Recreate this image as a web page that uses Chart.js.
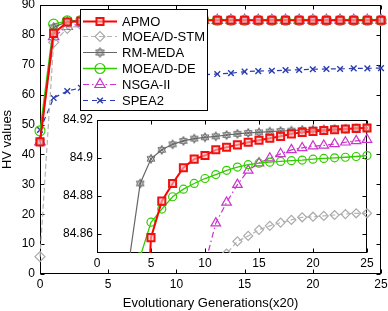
<!DOCTYPE html>
<html>
<head>
<meta charset="utf-8">
<script src="https://cdn.jsdelivr.net/npm/chart.js@4.4.1/dist/chart.umd.min.js"></script>
<style>
  html, body { margin: 0; padding: 0; background: #fff; }
  #wrap { position: relative; width: 388px; height: 311px; }
  #mainChart { position: absolute; left: 0; top: 0; }
  #insetChart { position: absolute; left: 45px; top: 110px; }
</style>
</head>
<body>
<div id="wrap">
  <canvas id="mainChart" width="388" height="311"></canvas>
  <canvas id="insetChart" width="335" height="168"></canvas>
</div>
<script>
// values (x = generation index, times 20)
const generations = [0, 1, 2, 3, 4, 5, 6, 7, 8, 9, 10, 11, 12, 13, 14, 15, 16, 17, 18, 19, 20, 21, 22, 23, 24, 25];
const apmo = [44.2, 80.5, 84.3, 84.6, 84.75, 84.8581, 84.8773, 84.8866, 84.8949, 84.8994, 84.9013, 84.9043, 84.9057, 84.9069, 84.9083, 84.9093, 84.9104, 84.9114, 84.9127, 84.9135, 84.914, 84.9145, 84.9149, 84.9153, 84.9156, 84.9158];
const moeadStm = [5.8, 77.5, 82.2, 83.3, 83.9, 84.25, 84.5, 84.65, 84.74, 84.79, 84.82, 84.838, 84.8497, 84.8561, 84.859, 84.8622, 84.8643, 84.866, 84.8674, 84.8688, 84.8691, 84.8695, 84.87, 84.8705, 84.8709, 84.8709];
const rmMeda = [44.2, 82.5, 84.5, 84.847, 84.8866, 84.8996, 84.9043, 84.9072, 84.909, 84.9102, 84.9109, 84.9114, 84.9121, 84.9127, 84.9132, 84.9135, 84.9139, 84.9142, 84.9144, 84.9148, 84.9149, 84.9151, 84.9153, 84.9154, 84.9156, 84.9158];
const moeadDe = [47.9, 83.6, 84.7, 84.8, 84.848, 84.8662, 84.8731, 84.8796, 84.8836, 84.8866, 84.8892, 84.8913, 84.8935, 84.8952, 84.8965, 84.8973, 84.8978, 84.8982, 84.8986, 84.8989, 84.8994, 84.8998, 84.9001, 84.9004, 84.9008, 84.9013];
const nsga2 = [44.2, 79.4, 82.8, 83.8, 84.3, 84.5, 84.6, 84.7, 84.75, 84.8, 84.844, 84.8657, 84.8766, 84.886, 84.8935, 84.8973, 84.8999, 84.9022, 84.9043, 84.9053, 84.9062, 84.9066, 84.9074, 84.9083, 84.909, 84.9097];
const spea2 = [48.2, 58.9, 61.2, 62.3, 63.2, 63.9, 64.5, 65.0, 65.4, 65.8, 66.1, 66.4, 66.7, 66.9, 67.2, 67.7, 67.9, 68.0, 68.2, 68.3, 68.5, 68.6, 68.6, 68.8, 68.8, 68.9];

const mainXTicks = [0, 5, 10, 15, 20, 25];
const mainYTicks = [0, 10, 20, 30, 40, 50, 60, 70, 80, 90];
const insetXTicks = [0, 5, 10, 15, 20, 25];
const insetYTicks = [84.86, 84.88, 84.9, 84.92];

Chart.defaults.font.family = '"Liberation Sans", Arial, sans-serif';
Chart.defaults.font.size = 12;
Chart.defaults.color = '#000';

// six-pointed star marker for RM-MEDA
function hexagram(r) {
  const c = document.createElement('canvas');
  const s = Math.ceil(r * 2 + 3);
  c.width = s; c.height = s;
  const g = c.getContext('2d');
  g.strokeStyle = '#666';
  g.lineWidth = 1;
  const cx = s / 2, cy = s / 2;
  [ -Math.PI / 2, Math.PI / 2 ].forEach(a0 => {
    g.beginPath();
    for (let k = 0; k < 3; k++) {
      const a = a0 + k * 2 * Math.PI / 3;
      const px = cx + r * Math.cos(a), py = cy + r * Math.sin(a);
      if (k === 0) g.moveTo(px, py); else g.lineTo(px, py);
    }
    g.closePath();
    g.stroke();
  });
  g.fillStyle = '#666';
  g.fillRect(cx - 1, cy - 1, 2, 2);
  return c;
}
const starMain = hexagram(5);
const starInset = hexagram(4.5);

function series(big) {
  const pts = arr => generations.map((g, i) => ({ x: g, y: arr[i] }));
  return [
    { label: 'APMO', data: pts(apmo), borderColor: '#ff0000', borderWidth: 2,
      pointStyle: 'rect', pointRadius: 5, pointBorderWidth: 2,
      pointBorderColor: '#ee1111', pointBackgroundColor: 'rgba(255,190,190,0.6)' },
    { label: 'MOEA/D-STM', data: pts(moeadStm), borderColor: '#b4b4b4', borderWidth: 1.2, borderDash: [5, 3],
      pointStyle: 'rectRot', pointRadius: big ? 5 : 4.5, pointBorderWidth: 1.2,
      pointBorderColor: '#aaaaaa', pointBackgroundColor: 'rgba(255,255,255,0)' },
    { label: 'RM-MEDA', data: pts(rmMeda), borderColor: '#666666', borderWidth: 1.2,
      pointStyle: big ? starMain : starInset, pointRadius: 5, pointBorderWidth: 1,
      pointBorderColor: '#666666', pointBackgroundColor: 'rgba(255,255,255,0)' },
    { label: 'MOEA/D-DE', data: pts(moeadDe), borderColor: '#33cc00', borderWidth: 1.3,
      pointStyle: 'circle', pointRadius: big ? 5 : 4, pointBorderWidth: 1.2,
      pointBorderColor: '#33cc00', pointBackgroundColor: 'rgba(255,255,255,0)' },
    { label: 'NSGA-II', data: pts(nsga2), borderColor: '#cc33cc', borderWidth: 1.2, borderDash: [6, 3, 1.5, 3],
      pointStyle: 'triangle', pointRadius: big ? 6 : 5.5, pointBorderWidth: 1.2,
      pointBorderColor: '#cc33cc', pointBackgroundColor: 'rgba(255,255,255,0)' },
    { label: 'SPEA2', data: pts(spea2), borderColor: '#2b3cb0', borderWidth: 1.2, borderDash: [5, 4],
      pointStyle: 'crossRot', pointRadius: 4, pointBorderWidth: 1.4,
      pointBorderColor: '#2b3cb0', pointBackgroundColor: 'rgba(255,255,255,0)' }
  ];
}

// MATLAB style box with inward ticks on all four sides
const boxTicks = {
  id: 'boxTicks',
  beforeDraw(chart, args, opts) {
    if (!opts.fill) return;
    const a = chart.chartArea, ctx = chart.ctx;
    ctx.save();
    ctx.fillStyle = '#fff';
    ctx.fillRect(a.left, a.top, a.right - a.left, a.bottom - a.top);
    ctx.restore();
  },
  beforeDatasetsDraw(chart) {
    const { ctx, chartArea: a, scales: { x, y } } = chart;
    ctx.save();
    ctx.strokeStyle = '#000';
    ctx.lineWidth = 1;
    const l = Math.round(a.left) + 0.5, r = Math.round(a.right) - 0.5;
    const t = Math.round(a.top) + 0.5, b = Math.round(a.bottom) - 0.5;
    ctx.strokeRect(l, t, r - l, b - t);
    ctx.beginPath();
    x.ticks.forEach(tk => {
      const px = Math.round(x.getPixelForValue(tk.value)) + 0.5;
      ctx.moveTo(px, b); ctx.lineTo(px, b - 4);
      ctx.moveTo(px, t); ctx.lineTo(px, t + 4);
    });
    y.ticks.forEach(tk => {
      const py = Math.round(y.getPixelForValue(tk.value)) + 0.5;
      ctx.moveTo(l, py); ctx.lineTo(l + 4, py);
      ctx.moveTo(r, py); ctx.lineTo(r - 4, py);
    });
    ctx.stroke();
    ctx.restore();
  }
};

const boxLegend = {
  id: 'boxLegend',
  afterDatasetsDraw(chart) {
    const ctx = chart.ctx;
    ctx.save();
    ctx.fillStyle = '#fff';
    ctx.fillRect(80, 9, 127, 101);
    ctx.strokeStyle = '#000';
    ctx.lineWidth = 1;
    ctx.strokeRect(80.5, 9.5, 127, 101);
    chart.data.datasets.forEach((ds, i) => {
      const yy = Math.round(20.5 + i * 15.9) + 0.5;
      ctx.strokeStyle = ds.borderColor;
      ctx.lineWidth = ds.borderWidth;
      ctx.setLineDash(ds.borderDash || []);
      ctx.beginPath();
      ctx.moveTo(83, yy); ctx.lineTo(117, yy);
      ctx.stroke();
      ctx.setLineDash([]);
      ctx.fillStyle = ds.pointBackgroundColor;
      ctx.strokeStyle = ds.pointBorderColor;
      ctx.lineWidth = ds.pointBorderWidth;
      Chart.helpers.drawPoint(ctx, { pointStyle: ds.pointStyle, radius: ds.pointRadius, borderWidth: ds.pointBorderWidth, rotation: 0 }, 100, yy);
      ctx.fillStyle = '#000';
      ctx.font = '13px "Liberation Sans", Arial, sans-serif';
      ctx.textBaseline = 'middle';
      ctx.textAlign = 'left';
      ctx.fillText(ds.label, 122, yy + 0.5);
    });
    ctx.restore();
  }
};

function fixTicks(list) {
  return scale => { scale.ticks = list.map(v => ({ value: v })); };
}
function fixSize(prop, size) {
  return s => {
    s[prop] = size;
    s.paddingTop = 0; s.paddingBottom = 0; s.paddingLeft = 0; s.paddingRight = 0;
  };
}
const noGrid = { display: false, drawTicks: false };

new Chart(document.getElementById('mainChart'), {
  type: 'line',
  data: { datasets: series(true) },
  options: {
    responsive: false,
    animation: false,
    clip: 6,
    layout: { autoPadding: false, padding: { top: 5, right: 7, left: 0, bottom: 0 } },
    plugins: { legend: { display: false }, tooltip: { enabled: false }, boxTicks: { fill: false } },
    scales: {
      x: {
        type: 'linear', min: 0, max: 25,
        afterBuildTicks: fixTicks(mainXTicks),
        afterFit: fixSize('height', 37),
        grid: noGrid, border: { display: false },
        ticks: { padding: 3, maxRotation: 0, callback: v => String(v) },
        title: { display: true, text: 'Evolutionary Generations(x20)', font: { size: 13 }, padding: { top: 0, bottom: 0 } }
      },
      y: {
        type: 'linear', min: 0, max: 90,
        afterBuildTicks: fixTicks(mainYTicks),
        afterFit: fixSize('width', 40),
        grid: noGrid, border: { display: false },
        ticks: { padding: 5, callback: v => String(v) },
        title: { display: true, text: 'HV values', font: { size: 13 }, padding: { top: 0, bottom: 0 } }
      }
    }
  },
  plugins: [boxTicks, boxLegend]
});

new Chart(document.getElementById('insetChart'), {
  type: 'line',
  data: { datasets: series(false) },
  options: {
    responsive: false,
    animation: false,
    clip: { left: 0, top: 5, right: 6, bottom: 0 },
    layout: { autoPadding: false, padding: { top: 10, right: 13, left: 0, bottom: 0 } },
    plugins: { legend: { display: false }, tooltip: { enabled: false }, boxTicks: { fill: true } },
    scales: {
      x: {
        type: 'linear', min: 0, max: 25,
        afterBuildTicks: fixTicks(insetXTicks),
        afterFit: fixSize('height', 25),
        grid: noGrid, border: { display: false },
        ticks: { padding: 3, maxRotation: 0, callback: v => String(v) }
      },
      y: {
        type: 'linear', min: 84.85, max: 84.92,
        afterBuildTicks: fixTicks(insetYTicks),
        afterFit: fixSize('width', 52),
        grid: noGrid, border: { display: false },
        ticks: { padding: 4, callback: v => String(v) }
      }
    }
  },
  plugins: [boxTicks]
});
</script>
</body>
</html>
